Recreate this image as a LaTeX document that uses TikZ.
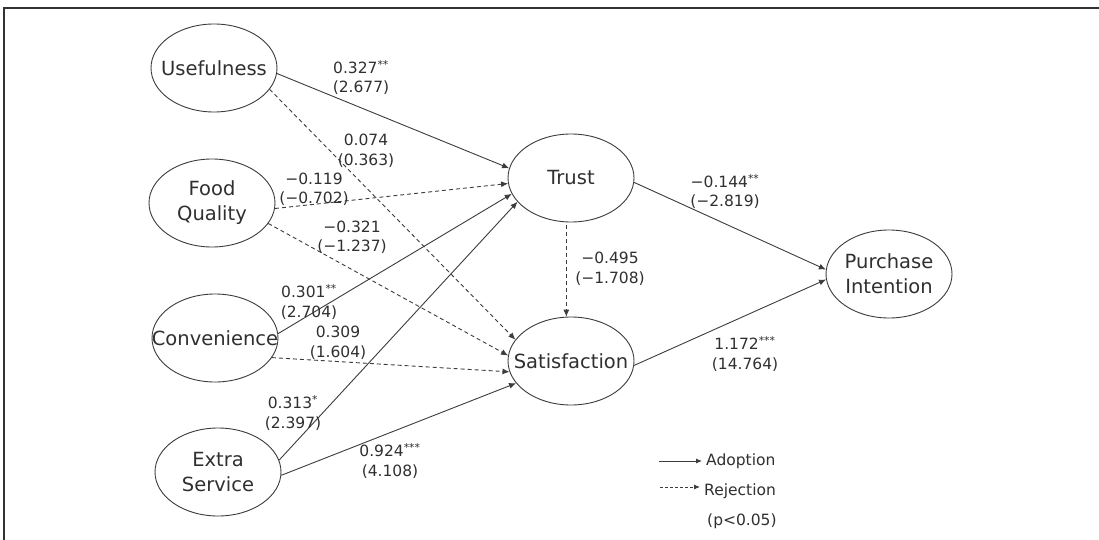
\documentclass[tikz,border=0pt]{standalone}
\usepackage{fontspec}
\setmainfont{DejaVu Sans}
\usetikzlibrary{arrows.meta,shapes.geometric}
\definecolor{ln}{HTML}{3C3C3C}
\definecolor{tx}{HTML}{303030}
\definecolor{fr}{HTML}{333333}
\tikzset{
  construct/.style={ellipse, draw=ln, line width=0.9pt, minimum width=126pt, minimum height=88pt, inner xsep=-60pt, inner ysep=-40pt, align=center, text=tx, font=\fontsize{19.5}{25}\selectfont},
  coef/.style={align=center, text=tx, inner sep=0pt, font=\fontsize{15.5}{19.5}\selectfont},
  legtext/.style={anchor=west, text=tx, inner sep=4pt, font=\fontsize{15.5}{19.5}\selectfont},
  adopt/.style={draw=ln, line width=0.9pt, -{Latex[length=7pt,width=6pt]}},
  reject/.style={draw=ln, line width=0.9pt, dash pattern=on 4pt off 3pt, -{Latex[length=7pt,width=6pt]}},
  legadopt/.style={draw=ln, line width=0.9pt, -{Latex[length=6pt,width=5pt]}},
  legreject/.style={draw=ln, line width=0.9pt, dash pattern=on 3pt off 2pt, -{Latex[length=6pt,width=5pt]}}
}
\newcommand{\sig}[1]{\textsuperscript{#1}}
\begin{document}
\begin{tikzpicture}[x=1pt,y=-1pt]
\useasboundingbox (0,0) rectangle (1099,540);
\fill[white] (0,0) rectangle (1099,540);
% frame
\draw[fr, line width=2pt] (4,540) -- (4,8) -- (1099,8);

% constructs
\node[construct] (use)   at (214,68)  {Usefulness};
\node[construct] (food)  at (212,203) {Food\\Quality};
\node[construct] (conv)  at (215,338) {Convenience};
\node[construct] (extra) at (218,472) {Extra\\Service};
\node[construct] (trust) at (571,178) {Trust};
\node[construct] (sat)   at (571,361) {Satisfaction};
\node[construct] (pi)    at (889,274) {Purchase\\Intention};

% paths
\draw[adopt]  (use.-5)   -- (trust.171);
\draw[reject] (use.-21)  -- (sat.159);
\draw[reject] (food.-5)  -- (trust.185);
\draw[reject] (food.-20) -- (sat.175);
\draw[adopt]  (conv.4)   -- (trust.195);
\draw[reject] (conv.-19) -- (sat.190);
\draw[adopt]  (extra.11) -- (trust.204);
\draw[adopt]  (extra.-3) -- (sat.202);
\draw[reject, shorten <=3pt] (trust.264) -- (sat.96);
\draw[adopt]  (trust.-4) -- (pi.176);
\draw[adopt]  (sat.-4)   -- (pi.185);

% coefficients
\node[coef] (c1)  at (361,77.5) {0.327\sig{**}\\(2.677)};
\node[coef] (c2)  at (366,151)  {0.074\\(0.363)};
\node[coef] (c3)  at (314,189.5) {−0.119\\(−0.702)};
\node[coef] (c4)  at (352,237.5) {−0.321\\(−1.237)};
\node[coef] (c5)  at (309,302)  {0.301\sig{**}\\(2.704)};
\node[coef] (c6)  at (338,343)  {0.309\\(1.604)};
\node[coef] (c7)  at (293,413)  {0.313\sig{*}\\(2.397)};
\node[coef] (c8)  at (390,461)  {0.924\sig{***}\\(4.108)};
\node[coef] (c9)  at (725,191.5) {−0.144\sig{**}\\(−2.819)};
\node[coef] (c10) at (610,269)  {−0.495\\(−1.708)};
\node[coef] (c11) at (745,354)  {1.172\sig{***}\\(14.764)};

% legend
\node[legtext] (ladopt) at (702,461) {Adoption};
\node[legtext] (lrej)   at (700,491) {Rejection};
\node[legtext] (lp)     at (703,521) {(p<0.05)};
\coordinate (la) at (659,461);
\coordinate (lr) at (660,487);
\coordinate (lr2) at (700,487);
\draw[legadopt] (la) -- (ladopt);
\draw[legreject] (lr) -- (lr2);
\end{tikzpicture}
\end{document}
